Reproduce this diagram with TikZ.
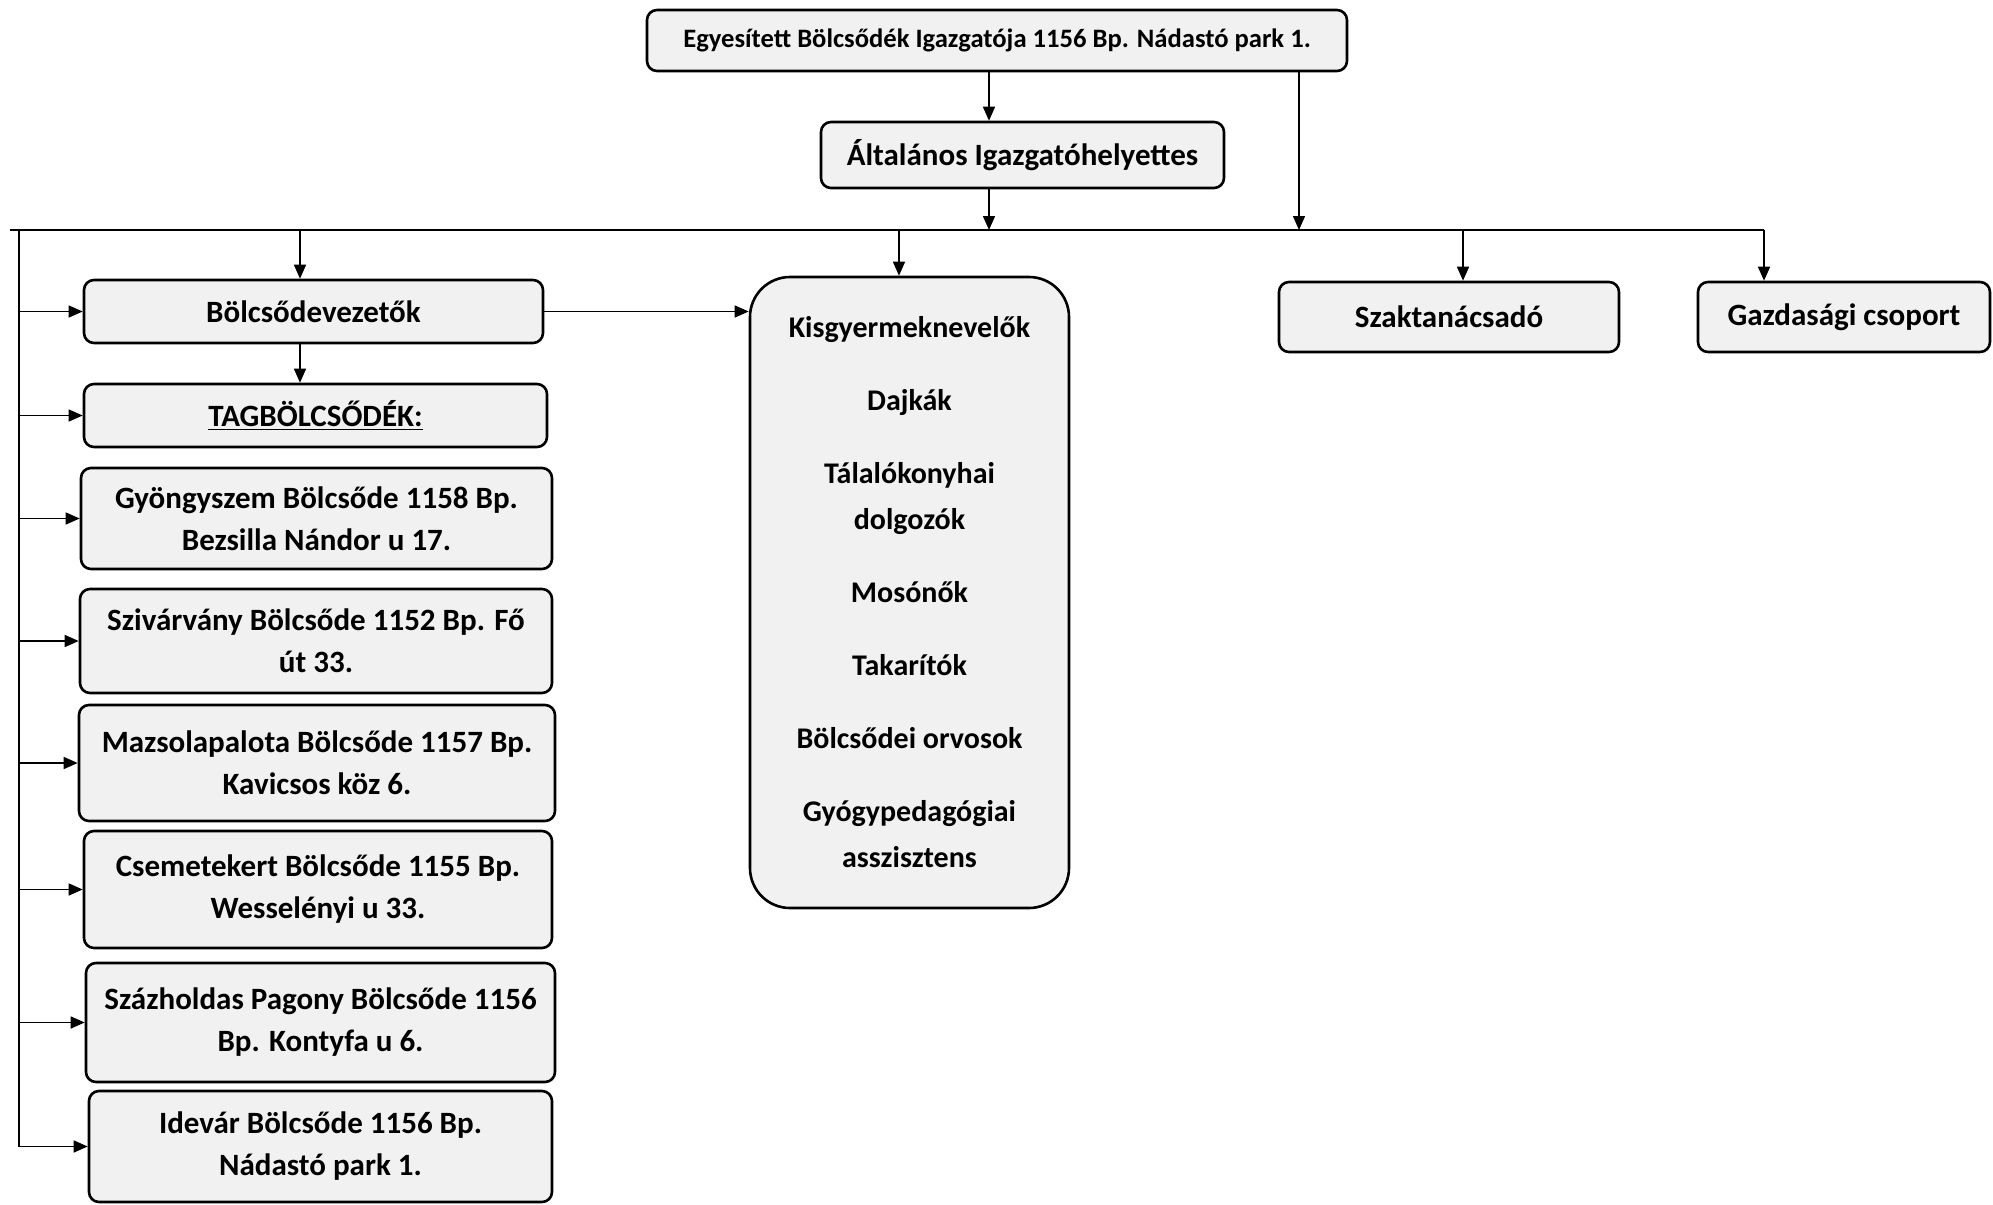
\documentclass[tikz,border=0pt]{standalone}
\usepackage{fontspec}
\setmainfont{Carlito}
\usetikzlibrary{arrows.meta}
\begin{document}
\begin{tikzpicture}[x=0.5pt,y=-0.5pt,
  box/.style={draw, line width=1.3pt, rounded corners=5pt, fill=gray!11, inner sep=0pt,
    font=\bfseries\fontsize{15.5}{21}\selectfont, align=center},
  wh/.style 2 args={minimum width=#1*0.5pt, minimum height=#2*0.5pt},
  arr/.style={-{Triangle[length=7pt,width=6pt]}, line width=0.75pt},
  ln/.style={line width=0.75pt}]
\useasboundingbox (0,0) rectangle (1993,1205);

\node[box, wh={700}{61}, font=\bfseries\fontsize{13.3}{16}\selectfont] (top) at (997,40.5)
  {Egyesített Bölcsődék Igazgatója 1156 Bp. Nádastó park 1.};
\node[box, wh={403}{66}] (alt) at (1022.5,155) {Általános Igazgatóhelyettes};
\node[box, wh={459}{63}] (bolcs) at (313.5,311.5) {Bölcsődevezetők};
\node[box, wh={463}{63}] (tag) at (315.5,415.5) {\underline{TAGBÖLCSŐDÉK:}};
\node[box, wh={471}{101}] (gy) at (316.5,518.5) {Gyöngyszem Bölcsőde 1158 Bp.\\Bezsilla Nándor u 17.};
\node[box, wh={472}{104}] (sz) at (316,641) {Szivárvány Bölcsőde 1152 Bp. Fő\\út 33.};
\node[box, wh={476}{116}] (ma) at (317,763) {Mazsolapalota Bölcsőde 1157 Bp.\\Kavicsos köz 6.};
\node[box, wh={468}{117}] (cs) at (318,889.5) {Csemetekert Bölcsőde 1155 Bp.\\Wesselényi u 33.};
\node[box, wh={469}{119}] (szh) at (320.5,1022.5) {Százholdas Pagony Bölcsőde 1156\\Bp. Kontyfa u 6.};
\node[box, wh={463}{111}] (ide) at (320.5,1146.5) {Idevár Bölcsőde 1156 Bp.\\Nádastó park 1.};
\node[box, wh={319}{631}, rounded corners=20pt, font=\bfseries\fontsize{15}{23}\selectfont] (kis) at (909.5,592.5)
  {Kisgyermeknevelők\\[13.5pt]Dajkák\\[13.5pt]Tálalókonyhai\\dolgozók\\[13.5pt]Mosónők\\[13.5pt]Takarítók\\[13.5pt]Bölcsődei orvosok\\[13.5pt]Gyógypedagógiai\\asszisztens};
\node[box, wh={340}{70}] (szakt) at (1449,317) {Szaktanácsadó};
\node[box, wh={292}{70}] (gazd) at (1844,317) {Gazdasági csoport};

\coordinate (busL) at (10,230);
\coordinate (busR) at (1764,230);
\coordinate (xa) at (989,0);
\coordinate (xb) at (1299,0);
\coordinate (xd) at (300,0);
\coordinate (xe) at (899,0);
\coordinate (xf) at (1463,0);
\coordinate (vx) at (19,0);

\draw[ln] (busL) -- (busR);
\draw[arr] (top.south -| xa) -- (alt.north -| xa);
\draw[arr] (alt.south -| xa) -- (busL -| xa);
\draw[arr] (top.south -| xb) -- (busL -| xb);
\draw[arr] (busL -| xd) -- (bolcs.north -| xd);
\draw[arr] (bolcs.south -| xd) -- (tag.north -| xd);
\draw[arr] (busL -| xe) -- (kis.north -| xe);
\draw[arr] (busL -| xf) -- (szakt.north -| xf);
\draw[arr] (busR) -- (gazd.north -| busR);
\draw[arr] (bolcs.east) -- (kis.west |- bolcs.east);

\draw[ln] (busL -| vx) -- (vx |- ide.west);
\foreach \n in {bolcs,tag,gy,sz,ma,cs,szh,ide}
  \draw[arr] (vx |- \n.west) -- (\n.west);
\end{tikzpicture}
\end{document}
